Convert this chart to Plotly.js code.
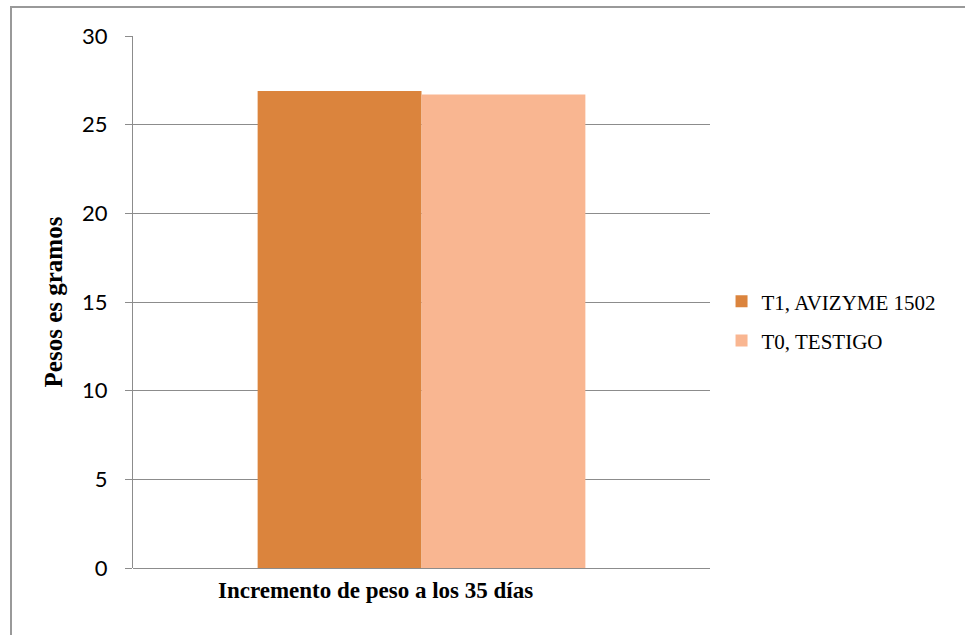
<!DOCTYPE html>
<html>
<head>
<meta charset="utf-8">
<script src="https://cdn.plot.ly/plotly-3.0.1.min.js"></script>
<style>
  html, body { margin: 0; padding: 0; background: #fff; }
  #wrap { position: relative; width: 965px; height: 635px; }
  #frame { position: absolute; left: 10px; top: 6px; width: 960px; height: 640px;
           border-left: 2px solid #999; border-top: 2px solid #999; pointer-events: none; }
  #chart { position: absolute; left: 0; top: 0; width: 965px; height: 635px; }
</style>
</head>
<body>
<div id="wrap">
  <div id="chart"></div>
  <div id="frame"></div>
</div>
<script>
// Weight gain at 35 days, grams
const category = ["Incremento de peso a los 35 días"];
const seriesNames = ["T1, AVIZYME 1502", "T0, TESTIGO"];
const t1Values = [26.9];
const t0Values = [26.7];
const seriesColors = ["#DB843D", "#F9B691"];
const yTicks = [0, 5, 10, 15, 20, 25, 30];

const traces = [
  { type: "bar", name: seriesNames[0], x: category, y: t1Values, legendgroup: "t1",
    marker: { color: seriesColors[0] }, hoverinfo: "name+y" },
  { type: "bar", name: seriesNames[1], x: category, y: t0Values, legendgroup: "t0",
    marker: { color: seriesColors[1] }, hoverinfo: "name+y" }
];

const layout = {
  width: 965, height: 635,
  margin: { l: 133, r: 255, t: 36, b: 67, pad: 0 },
  paper_bgcolor: "#fff", plot_bgcolor: "#fff",
  barmode: "group", bargap: 0.432, bargroupgap: 0,
  showlegend: true,
  legend: {
    x: 1.02, y: 0.464, xanchor: "left", yanchor: "middle",
    font: { family: "Liberation Serif", size: 21, color: "#000" },
    itemwidth: 30, tracegroupgap: 9, traceorder: "grouped"
  },
  xaxis: {
    showticklabels: false, ticks: "", showgrid: false,
    showline: false, zeroline: false
  },
  yaxis: {
    range: [0, 30], tickvals: yTicks, ticktext: yTicks.map(String),
    showgrid: true, gridcolor: "#8c8c8c", gridwidth: 1,
    showline: true, linecolor: "#8c8c8c", linewidth: 1,
    zeroline: true, zerolinecolor: "#8c8c8c", zerolinewidth: 1,
    ticks: "outside", ticklen: 7, tickcolor: "#8c8c8c",
    ticklabelstandoff: 13,
    tickfont: { family: "Lato", size: 22, color: "#000" },
    title: { text: "Pesos es gramos", standoff: 12,
             font: { family: "Liberation Serif", size: 25, color: "#000", weight: "bold" } }
  },
  annotations: [
    { text: "<b>Incremento de peso a los 35 días</b>", xref: "paper", yref: "paper",
      x: (375 - 133) / 577, y: -(590 - 568) / 532, xanchor: "center", yanchor: "middle",
      showarrow: false,
      font: { family: "Liberation Serif", size: 23, color: "#000" } }
  ]
};

Plotly.newPlot("chart", traces, layout, { staticPlot: true });
</script>
</body>
</html>
